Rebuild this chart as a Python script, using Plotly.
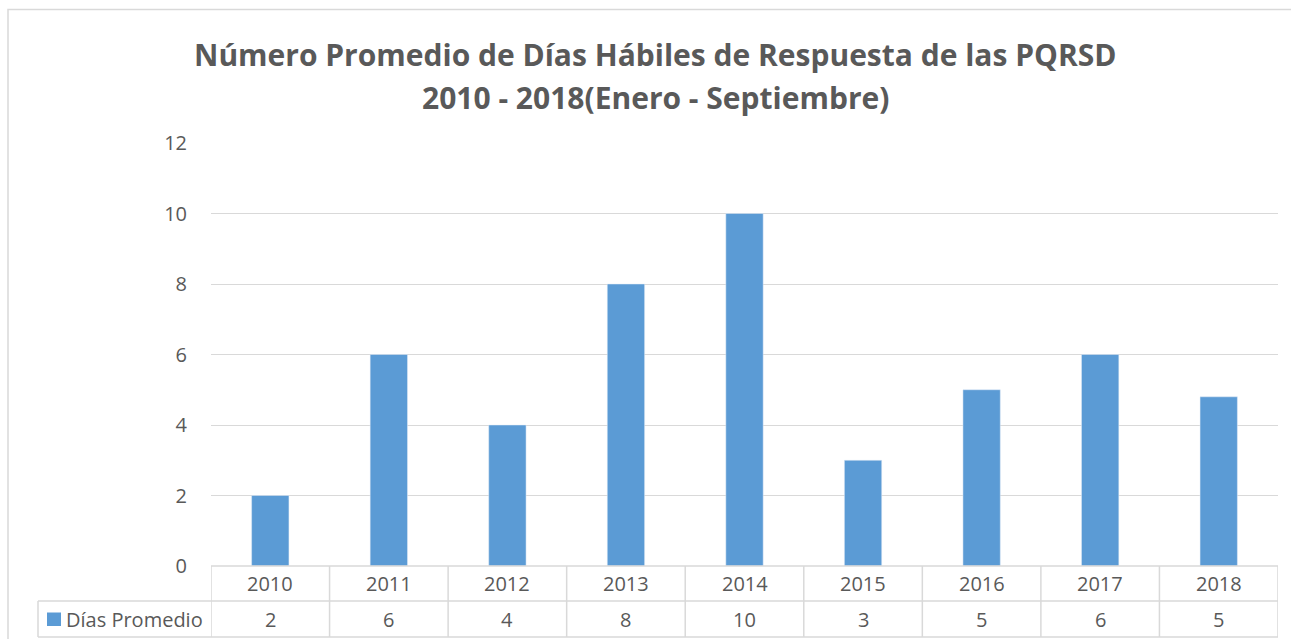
import plotly.graph_objects as go

categories = ["2010", "2011", "2012", "2013", "2014", "2015", "2016", "2017", "2018"]
values = [2, 6, 4, 8, 10, 3, 5, 6, 4.8]
series_name = "Días Promedio"
title_lines = ["Número Promedio de Días Hábiles de Respuesta de las PQRSD",
               "2010 - 2018(Enero - Septiembre)"]
y_ticks = [0, 2, 4, 6, 8, 10, 12]

W, H = 1291, 639
L, R, T, B = 211, 13, 143, 73
BAR = "#5B9BD5"
GRID = "#D9D9D9"
TXT = "#595959"
FONT = "Open Sans"
FS = 20
PW, PH = W - L - R, H - T - B


def xp(px):
    return (px - L) / PW


def yp(py):
    return (H - B - py) / PH


fig = go.Figure()
fig.add_trace(go.Bar(x=categories, y=values, marker_color=BAR, width=0.315,
                     name=series_name, showlegend=False))

fig.update_layout(
    width=W, height=H,
    margin=dict(l=L, r=R, t=T, b=B, pad=0),
    paper_bgcolor="white", plot_bgcolor="white",
    font=dict(family=FONT, color=TXT, size=FS),
)
fig.update_xaxes(type="category", showticklabels=False, showgrid=False, showline=False,
                 ticks="", range=[-0.5, len(categories) - 0.5])
fig.update_yaxes(range=[0, 12], tickvals=y_ticks, showgrid=True, gridcolor=GRID,
                 gridwidth=1.3, zeroline=False, showline=False, ticks="",
                 ticklabelstandoff=23, tickfont=dict(size=FS, color=TXT))

# title lines
for txt, cy in zip(title_lines, [55, 98]):
    fig.add_annotation(xref="paper", yref="paper", x=xp(655), y=yp(cy),
                       xanchor="center", yanchor="middle", showarrow=False,
                       text="<b>" + txt + "</b>",
                       font=dict(family=FONT, size=30, color=TXT))

# outer chart border (cropped on right/bottom)
fig.add_shape(type="rect", xref="paper", yref="paper",
              x0=xp(8), x1=xp(W + 5), y0=yp(H + 5), y1=yp(9.5),
              line=dict(color=GRID, width=1.5), layer="below")

# data table
row1_top, row_mid, row2_bot = 566, 601, 637
leftcol = 38
n = len(categories)
line = dict(color=GRID, width=1.5)
fig.add_shape(type="line", xref="paper", yref="paper", x0=0, x1=1,
              y0=yp(row1_top), y1=yp(row1_top), line=line)
for yy in (row_mid, row2_bot):
    fig.add_shape(type="line", xref="paper", yref="paper", x0=xp(leftcol), x1=1,
                  y0=yp(yy), y1=yp(yy), line=line)
for i in range(n + 1):
    fig.add_shape(type="line", xref="x", yref="paper", x0=i - 0.5, x1=i - 0.5,
                  y0=yp(row1_top), y1=yp(row2_bot), line=line)
fig.add_shape(type="line", xref="paper", yref="paper", x0=xp(leftcol), x1=xp(leftcol),
              y0=yp(row_mid), y1=yp(row2_bot), line=line)

for i, (c, v) in enumerate(zip(categories, values)):
    fig.add_annotation(x=i, xref="x", yref="paper", y=yp((row1_top + row_mid) / 2),
                       text=c, showarrow=False, yanchor="middle", xanchor="center",
                       font=dict(size=FS, color=TXT))
    fig.add_annotation(x=i, xref="x", yref="paper", y=yp((row_mid + row2_bot) / 2),
                       text=f"{round(v):d}", showarrow=False, yanchor="middle",
                       xanchor="center", font=dict(size=FS, color=TXT))

# legend key in table
fig.add_shape(type="rect", xref="paper", yref="paper",
              x0=xp(47), x1=xp(61), y0=yp(626), y1=yp(612.5),
              fillcolor=BAR, line=dict(width=0))
fig.add_annotation(xref="paper", yref="paper", x=xp(64),
                   y=yp((row_mid + row2_bot) / 2), xanchor="left", yanchor="middle",
                   text=series_name, showarrow=False, font=dict(size=FS, color=TXT))

fig.write_html("out.html", config={"displayModeBar": False},
               post_script="document.body.style.margin='0';")
